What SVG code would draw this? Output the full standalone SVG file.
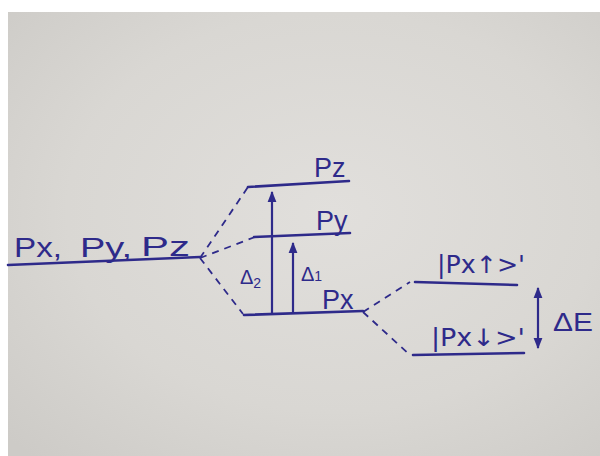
<svg xmlns="http://www.w3.org/2000/svg" width="600" height="456" viewBox="0 0 600 456">
<defs>
<radialGradient id="paper" cx="0.55" cy="0.45" r="0.75">
<stop offset="0" stop-color="#e1dfdc"/>
<stop offset="0.6" stop-color="#d9d7d3"/>
<stop offset="1" stop-color="#cdcbc7"/>
</radialGradient>
<marker id="ah" viewBox="0 0 10 10" refX="9" refY="5" markerWidth="5" markerHeight="5" orient="auto-start-reverse">
<path d="M0,1 L10,5 L0,9 Z" fill="#2e2a8a"/>
</marker>
<style>
.lvl{stroke:#2e2a8a;stroke-width:2.6;fill:none;stroke-linecap:round}
.dash{stroke:#2e2a8a;stroke-width:1.8;fill:none;stroke-dasharray:7 6}
.arr{stroke:#2e2a8a;stroke-width:2.2;fill:none;marker-end:url(#ah)}
.lbl{font-family:"Liberation Sans","DejaVu Sans",sans-serif;fill:#2e2a8a;font-size:27px}
.ket{font-family:"DejaVu Sans","Liberation Sans",sans-serif;fill:#2e2a8a;font-size:24px}
.sm{font-family:"Liberation Sans","DejaVu Sans",sans-serif;fill:#2e2a8a;font-size:20px}
.de{font-family:"Liberation Sans","DejaVu Sans",sans-serif;fill:#2e2a8a;font-size:25px}
</style>
</defs>
<rect x="0" y="0" width="600" height="456" fill="#ffffff"/>
<rect x="8" y="12" width="592" height="444" fill="url(#paper)"/>

<g id="connectors">
<path class="dash" d="M200,258 L248,187"/>
<path class="dash" d="M200,258 L255,237"/>
<path class="dash" d="M200,258 L243,314"/>
<path class="dash" d="M363,312 L410,282"/>
<path class="dash" d="M363,312 L410,355"/>
<path class="arr" d="M272,314 L272,192"/>
<path class="arr" d="M293,314 L293,243"/>
<path class="arr" d="M538,318 L538,288"/>
<path class="arr" d="M538,318 L538,348"/>
</g>

<g id="degenerate">
<path class="lvl" d="M8,265 L200,257"/>
<text class="lbl" x="14" y="257" textLength="48" lengthAdjust="spacingAndGlyphs">Px,</text>
<text class="lbl" x="80" y="257" textLength="52" lengthAdjust="spacingAndGlyphs">Py,</text>
<text class="lbl" x="141" y="256" textLength="49" lengthAdjust="spacingAndGlyphs">Pz</text>
</g>

<g id="pz">
<path class="lvl" d="M248,187 L349,181"/>
<text class="lbl" x="314" y="177">Pz</text>
</g>

<g id="py">
<path class="lvl" d="M254,237 L350,233"/>
<text class="lbl" x="316" y="230">Py</text>
</g>

<g id="px">
<path class="lvl" d="M244,315 L363,311"/>
<text class="lbl" x="322" y="309">Px</text>
</g>

<g id="delta-labels">
<text class="sm" x="240" y="284">Δ<tspan style="font-size:14px" dy="4">2</tspan></text>
<text class="sm" x="301" y="281">Δ<tspan style="font-size:14px">1</tspan></text>
</g>

<g id="px-up">
<path class="lvl" d="M415,282 L517,285"/>
<text class="ket" x="437" y="273" textLength="88" lengthAdjust="spacingAndGlyphs">|Px↑&gt;'</text>
</g>

<g id="px-down">
<path class="lvl" d="M413,355 L524,353"/>
<text class="ket" x="431" y="346" textLength="94" lengthAdjust="spacingAndGlyphs">|Px↓&gt;'</text>
</g>

<g id="deltaE">
<text class="de" x="553" y="331" textLength="40" lengthAdjust="spacingAndGlyphs">ΔE</text>
</g>
</svg>
